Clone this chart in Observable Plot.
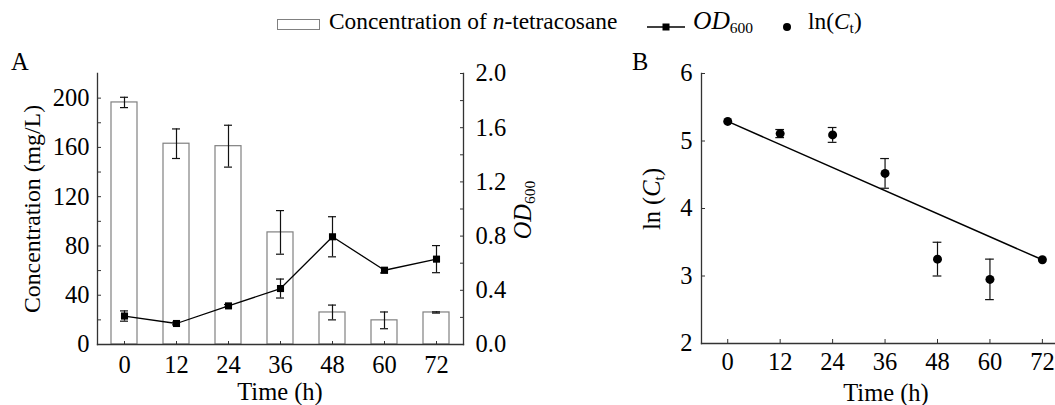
<!DOCTYPE html>
<html><head><meta charset="utf-8">
<script src="https://cdn.jsdelivr.net/npm/d3@7"></script>
<script src="https://cdn.jsdelivr.net/npm/@observablehq/plot@0.6"></script>
<style>
body{margin:0;background:#fff;}
#root{position:relative;width:1055px;height:405px;overflow:hidden;font-family:"Liberation Serif","Times New Roman",serif;color:#000;background:#fff;}
.abs{position:absolute;white-space:nowrap;line-height:24px;font-size:24.5px;}
.leg{font-size:23.4px;}
.rot{transform:translate(-50%,-50%) rotate(-90deg);}
.ctr{transform:translate(-50%,-50%);}
sub{font-size:15.5px;vertical-align:-4px;line-height:0;}
#panelA,#panelB{position:absolute;top:40px;}
#panelA{left:0;} #panelB{left:600px;}
#panelA svg text, #panelB svg text{font-family:"Liberation Serif","Times New Roman",serif;font-size:24.5px;}
</style></head><body><div id="root">
<div id="panelA"></div><div id="panelB"></div>
</div>
<script>
// ---- data ----
const times = [0, 12, 24, 36, 48, 60, 72];
const concMean = [196.5, 163, 161, 91, 26, 19.6, 26];
const concSD = [4.2, 12, 17, 17.7, 6, 6.8, 0.5];
const odMean = [0.21, 0.155, 0.285, 0.413, 0.795, 0.548, 0.63];
const odSD = [0.038, 0.01, 0.01, 0.07, 0.148, 0.02, 0.1];
const lnMean = [5.29, 5.11, 5.09, 4.52, 3.25, 2.95, 3.24];
const lnSD = [0, 0.06, 0.11, 0.22, 0.25, 0.30, 0];
const fitTime = [0, 72];
const fitLn = [5.29, 3.24];
const concTicks = [0, 20, 40, 60, 80, 100, 120, 140, 160, 180, 200];
const odTicks = [0, 0.2, 0.4, 0.6, 0.8, 1.0, 1.2, 1.4, 1.6, 1.8, 2.0];
const lnTicks = [2, 3, 4, 5, 6];
const concMax = 220, odMax = 2.0;
const k = concMax / odMax; // OD -> concentration scale factor

const font = 'font-family:"Liberation Serif","Times New Roman",serif;font-size:24.5px;color:#000;background:transparent;overflow:visible;';
const txt = {fontFamily: "Liberation Serif", fontSize: 24.5};

// ---- panel A ----
const A = times.map((t, i) => ({t, c: concMean[i], cs: concSD[i], od: odMean[i] * k, os: odSD[i] * k}));
const plotA = Plot.plot({
  width: 530, height: 365,
  marginLeft: 97, marginRight: 67, marginTop: 33, marginBottom: 61,
  style: font,
  x: {type: "band", domain: times, paddingInner: 0.5, paddingOuter: 0.25, label: null},
  y: {domain: [0, concMax], label: null},
  marks: [
    Plot.barY(A, {x: "t", y: "c", fill: "white", stroke: "#808080", strokeWidth: 1.2}),
    Plot.ruleX(A, {x: "t", y1: d => d.c - d.cs, y2: d => d.c + d.cs, stroke: "#111", strokeWidth: 1.2}),
    Plot.tickY(A, {x: "t", y: d => d.c + d.cs, insetLeft: 9, insetRight: 9, stroke: "#111", strokeWidth: 1.2}),
    Plot.tickY(A, {x: "t", y: d => d.c - d.cs, insetLeft: 9, insetRight: 9, stroke: "#111", strokeWidth: 1.2}),
    Plot.line(A, {x: "t", y: "od", stroke: "#000", strokeWidth: 1.3}),
    Plot.ruleX(A, {x: "t", y1: d => d.od - d.os, y2: d => d.od + d.os, stroke: "#111", strokeWidth: 1.2}),
    Plot.tickY(A, {x: "t", y: d => d.od + d.os, insetLeft: 9, insetRight: 9, stroke: "#111", strokeWidth: 1.2}),
    Plot.tickY(A, {x: "t", y: d => d.od - d.os, insetLeft: 9, insetRight: 9, stroke: "#111", strokeWidth: 1.2}),
    Plot.dot(A, {x: "t", y: "od", symbol: "square", r: 4, fill: "#000", stroke: null}),
    Plot.axisX({...txt, tickSize: -3, tickPadding: 14, stroke: "#333"}),
    Plot.axisY({...txt, anchor: "left", ticks: concTicks, tickSize: -4, tickPadding: 12, stroke: "#333",
      tickFormat: d => d % 40 === 0 ? d : ""}),
    Plot.axisY({...txt, anchor: "right", ticks: odTicks.map(v => v * k), tickSize: -4, tickPadding: 16, stroke: "#333",
      tickFormat: d => { const v = Math.round(d / k * 10); return v % 4 === 0 ? (v / 10).toFixed(1) : ""; }}),
    Plot.frame({anchor: "left", stroke: "#333", strokeWidth: 1.3}),
    Plot.frame({anchor: "right", stroke: "#333", strokeWidth: 1.3}),
    Plot.frame({anchor: "bottom", stroke: "#333", strokeWidth: 1.3})
  ]
});
document.getElementById("panelA").append(plotA);

// ---- panel B ----
const B = times.map((t, i) => ({t, v: lnMean[i], s: lnSD[i]}));
const errB = B.filter(d => d.s > 0);
const fit = fitTime.map((t, i) => ({t, v: fitLn[i]}));
const plotB = Plot.plot({
  width: 455, height: 365,
  marginLeft: 101, marginRight: 0, marginTop: 33, marginBottom: 62,
  style: font,
  x: {domain: [-6, 75], label: null},
  y: {domain: [2, 6], label: null},
  marks: [
    Plot.line(fit, {x: "t", y: "v", stroke: "#000", strokeWidth: 1.5}),
    Plot.ruleX(errB, {x: "t", y1: d => d.v - d.s, y2: d => d.v + d.s, stroke: "#111", strokeWidth: 1.2}),
    Plot.ruleY(errB, {x1: d => d.t - 1, x2: d => d.t + 1, y: d => d.v + d.s, stroke: "#111", strokeWidth: 1.2}),
    Plot.ruleY(errB, {x1: d => d.t - 1, x2: d => d.t + 1, y: d => d.v - d.s, stroke: "#111", strokeWidth: 1.2}),
    Plot.dot(B, {x: "t", y: "v", r: 4.5, fill: "#000", stroke: null}),
    Plot.axisX({...txt, ticks: times, tickSize: -4, tickPadding: 13, stroke: "#333"}),
    Plot.axisY({...txt, ticks: lnTicks, tickSize: -4, tickPadding: 13, stroke: "#333", tickFormat: d => String(d)}),
    Plot.frame({anchor: "left", stroke: "#333", strokeWidth: 1.3}),
    Plot.frame({anchor: "bottom", stroke: "#333", strokeWidth: 1.3})
  ]
});
document.getElementById("panelB").append(plotB);

// ---- text labels & legend ----
const root = document.getElementById("root");
function add(html, style, cls) {
  const d = document.createElement("div");
  d.className = "abs " + (cls || "");
  d.innerHTML = html;
  Object.assign(d.style, style);
  root.append(d);
  return d;
}
add("A", {left: "11px", top: "50px"});
add("B", {left: "632px", top: "50px"});
add("Concentration (mg/L)", {left: "32px", top: "209px", fontSize: "23.8px"}, "rot");
add("<i>OD</i><sub>600</sub>", {left: "523px", top: "210px"}, "rot");
add("ln (<i>C</i><sub>t</sub>)", {left: "652px", top: "199px"}, "rot");
add("Time (h)", {left: "280px", top: "392px"}, "ctr");
add("Time (h)", {left: "886px", top: "393px"}, "ctr");

// legend
add("", {left: "277px", top: "19px", width: "41px", height: "9px", border: "1px solid #808080"});
add("Concentration of <i>n</i>-tetracosane", {left: "329px", top: "9px"}, "leg");
add('<svg width="40" height="10"><line x1="0" y1="5" x2="38" y2="5" stroke="#000" stroke-width="1.3"/><rect x="15.5" y="1.5" width="7" height="7" fill="#000"/></svg>', {left: "647px", top: "19px", lineHeight: "10px"});
add('<i style="font-size:25.5px">OD</i><sub>600</sub>', {left: "693px", top: "9px"}, "leg");
add('<svg width="10" height="10"><circle cx="5" cy="5" r="4" fill="#000"/></svg>', {left: "782px", top: "19px", lineHeight: "10px"});
add("ln(<i>C</i><sub>t</sub>)", {left: "808px", top: "9px"}, "leg");
</script>
</body></html>
